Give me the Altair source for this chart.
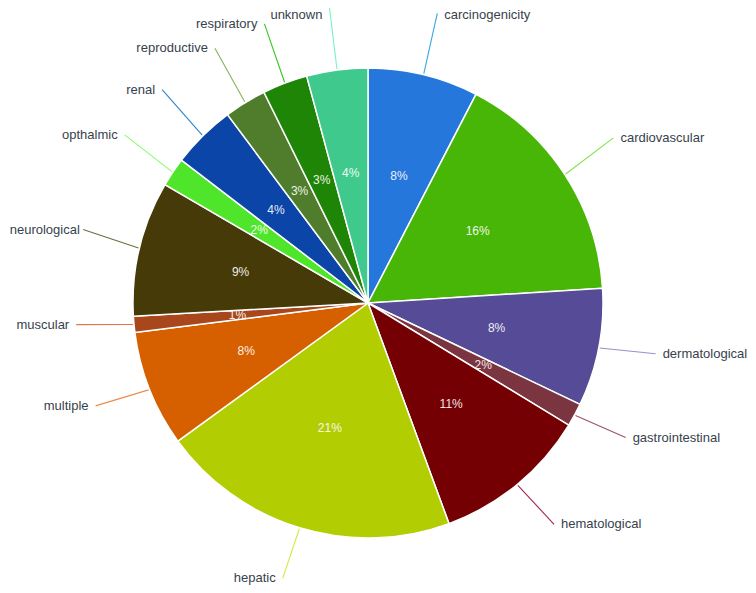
import math
import altair as alt
import pandas as pd

categories = ["carcinogenicity", "cardiovascular", "dermatological", "gastrointestinal",
              "hematological", "hepatic", "multiple", "muscular", "neurological",
              "opthalmic", "renal", "reproductive", "respiratory", "unknown"]
values = [7.6, 16.4, 8.1, 1.6, 10.7, 20.6, 8.0, 1.1, 9.3, 2.0, 4.4, 2.9, 3.1, 4.2]
colors = ["#2577dc", "#48b606", "#564b97", "#7a3540", "#740003", "#b2cd02", "#d66000",
          "#a9471c", "#463a08", "#4ee52a", "#0c45a8", "#4f7d2c", "#1f8506", "#3fc98c"]
line_colors = ["#3aa6e2", "#86e34a", "#9990cc", "#9c5565", "#a5284a", "#d6e640", "#f08a4a",
               "#e0754f", "#6e6e3e", "#86ff66", "#2c86c8", "#84b356", "#36c522", "#78f2c4"]

R = 235
R_TEXT = 131
R_LINE_END = 293
LIFT = 5          # leader ends sit slightly above the radial point
W, H = 740, 577
X_MIN, X_MAX = -360, 380
Y_MIN, Y_MAX = -282, 295

total = sum(values)
rows = []
cum = 0.0
for i, (c, v) in enumerate(zip(categories, values)):
    mid = (cum + v / 2) / total * 2 * math.pi
    cum += v
    s, co = math.sin(mid), math.cos(mid)
    x1 = R_LINE_END * s
    y1 = R_LINE_END * co + LIFT
    side = "right" if s >= 0 else "left"
    # keep label text inside the drawable area
    ly = min(max(y1, Y_MIN + 7), Y_MAX - 7)
    lx = x1
    if side == "left":
        est_w = len(c) * 5.9
        lx = max(x1, X_MIN + 7 + est_w + 1)
    rows.append(dict(
        category=c, value=v, idx=i,
        pct=f"{round(v / total * 100)}%",
        xt=R_TEXT * s, yt=R_TEXT * co,
        x0=(R + 1) * s, y0=(R + 1) * co,
        x1=x1, y1=y1, lx=lx, ly=ly,
        side=side, lc=line_colors[i],
    ))
df = pd.DataFrame(rows)

xscale = alt.Scale(domain=[X_MIN, X_MAX], nice=False, zero=False)
yscale = alt.Scale(domain=[Y_MIN, Y_MAX], nice=False, zero=False)

base = alt.Chart(df)

arcs = base.mark_arc(outerRadius=R, stroke="white", strokeWidth=1.5).encode(
    x=alt.XDatum(0, scale=xscale, axis=None),
    y=alt.YDatum(0, scale=yscale, axis=None),
    theta=alt.Theta("value:Q", stack=True),
    color=alt.Color("category:N", scale=alt.Scale(domain=categories, range=colors), legend=None),
    order=alt.Order("idx:Q", sort="ascending"),
)

pct_text = base.mark_text(fontSize=12, font="Liberation Sans", color="white", opacity=0.9,
                          align="center", baseline="middle").encode(
    x=alt.X("xt:Q", scale=xscale, axis=None),
    y=alt.Y("yt:Q", scale=yscale, axis=None),
    text="pct:N",
)

leaders = base.mark_rule(strokeWidth=1.1).encode(
    x=alt.X("x0:Q", scale=xscale, axis=None),
    y=alt.Y("y0:Q", scale=yscale, axis=None),
    x2="x1:Q",
    y2="y1:Q",
    color=alt.Color("lc:N", scale=None),
)

labels_right = base.transform_filter(alt.datum.side == "right").mark_text(
    fontSize=13, font="Liberation Sans", color="#37424c", align="left", baseline="middle", dx=7
).encode(
    x=alt.X("lx:Q", scale=xscale, axis=None),
    y=alt.Y("ly:Q", scale=yscale, axis=None),
    text="category:N",
)

labels_left = base.transform_filter(alt.datum.side == "left").mark_text(
    fontSize=13, font="Liberation Sans", color="#37424c", align="right", baseline="middle", dx=-7
).encode(
    x=alt.X("lx:Q", scale=xscale, axis=None),
    y=alt.Y("ly:Q", scale=yscale, axis=None),
    text="category:N",
)

chart = alt.layer(arcs, pct_text, leaders, labels_right, labels_left).properties(
    width=W, height=H, padding=0, autosize=alt.AutoSizeParams(type="none")
).configure_view(strokeWidth=0)

chart.save("out.html", embed_options={"renderer": "svg", "actions": False})
